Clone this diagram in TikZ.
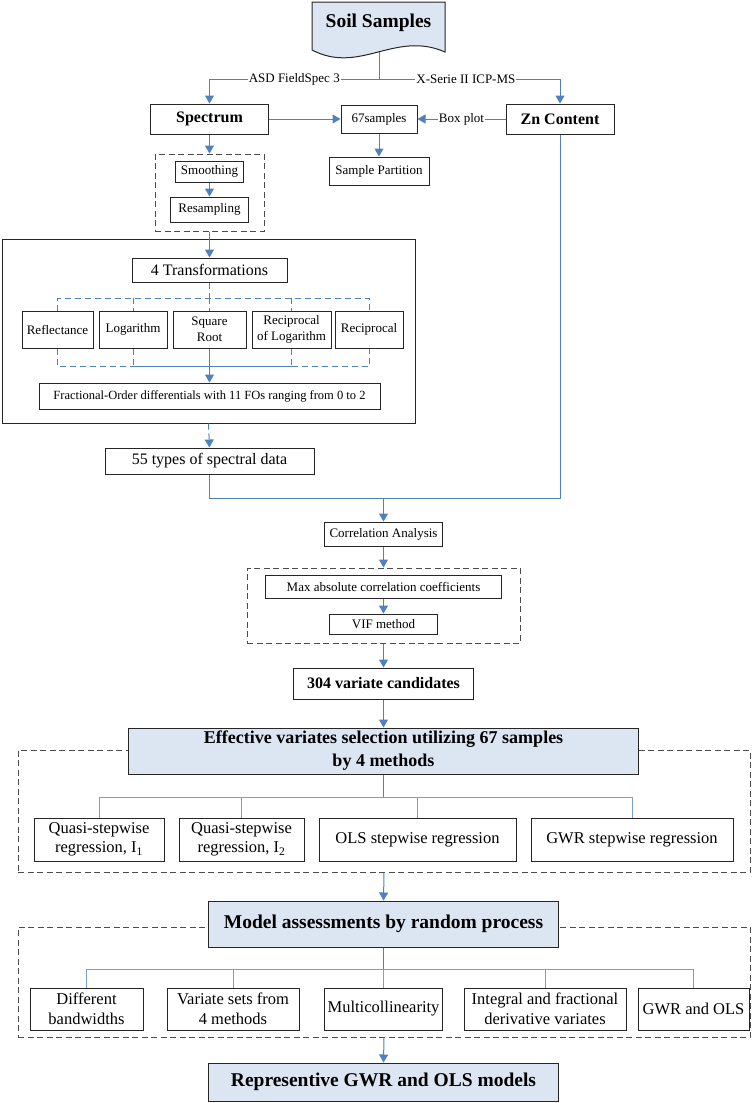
\documentclass[tikz,border=0pt]{standalone}
\usepackage{fontspec}
\setmainfont{Liberation Serif}
\usetikzlibrary{arrows.meta}
\definecolor{lightblue}{RGB}{220,230,242}
\definecolor{lineblue}{RGB}{79,129,189}
\definecolor{busblue}{RGB}{125,158,205}
\definecolor{dashgray}{RGB}{75,75,75}
\newcommand\fsz[2]{\fontsize{#1}{#2}\selectfont}
\begin{document}
\begin{tikzpicture}[x=1pt,y=-1pt,
  box/.style={draw=black!85, line width=1pt, fill=white, inner sep=1pt, align=center, font=\fsz{13}{15.5}},
  bbox/.style={box, font=\bfseries\fsz{16}{19}},
  lbox/.style={box, fill=lightblue, font=\bfseries\fsz{18}{23}},
  gbox/.style={box, font=\fsz{16.5}{19.5}},
  dbox/.style={draw=dashgray, line width=1pt, dash pattern=on 6pt off 3.5pt, inner sep=0pt},
  conn/.style={draw=lineblue, line width=1pt},
  dconn/.style={draw=lineblue, line width=1pt, dash pattern=on 6pt off 4pt},
  bus/.style={draw=busblue, line width=0.9pt},
  arr/.style={conn, -{Triangle[width=9pt,length=8pt]}},
  darr/.style={dconn, -{Triangle[width=9pt,length=8pt]}},
  lbl/.style={fill=white, inner sep=1pt, font=\fsz{13}{15}}]
\useasboundingbox (0,0) rectangle (752,1103);

% containers
\node[dbox, minimum width=109pt, minimum height=77pt] (grpS) at (209.5,192.5) {};
\node[draw=black!85, line width=1pt, inner sep=0pt, minimum width=413pt, minimum height=184pt] (grpT) at (208.5,331) {};
\node[dbox, minimum width=273pt, minimum height=75pt] (grpC) at (383.5,605.5) {};
\node[dbox, minimum width=732pt, minimum height=122pt] (grpE) at (384,811) {};
\node[dbox, minimum width=732pt, minimum height=110pt] (grpM) at (384,982) {};

% soil samples document shape
\draw[draw=black!85, line width=1pt, fill=lightblue] (312,2) -- (445,2) -- (445,52)
  .. controls (395,30) and (360,75) .. (312,50) -- cycle;
\node[font=\bfseries\fsz{19.5}{22}] (soil) at (378.5,23) {Soil Samples};
\coordinate (soilb) at (379,52);
\coordinate (split) at (379,79);

% top row
\node[bbox, minimum width=118pt, minimum height=30pt] (spec) at (209.5,119) {Spectrum};
\node[bbox, minimum width=108pt, minimum height=30pt] (zn) at (560,119) {Zn Content};
\node[box, minimum width=76pt, minimum height=28pt] (s67) at (379,119) {67samples};
\node[box, minimum width=100pt, minimum height=28pt] (part) at (379,171) {Sample Partition};

% preprocessing
\node[box, minimum width=68pt, minimum height=21pt] (smooth) at (209.5,171.5) {Smoothing};
\node[box, minimum width=78pt, minimum height=25pt] (resamp) at (209.5,209.5) {Resampling};

% transformations
\node[box, minimum width=155pt, minimum height=24pt, font=\fsz{16}{19}] (trans4) at (209.5,270) {4 Transformations};
\node[box, minimum width=71pt, minimum height=37pt] (refl) at (57.5,329.5) {Reflectance};
\node[box, minimum width=68pt, minimum height=37pt] (log) at (133,329.5) {Logarithm};
\node[box, minimum width=73pt, minimum height=37pt] (sqrt) at (209.5,329.5) {Square\\Root};
\node[box, minimum width=79pt, minimum height=37pt] (recl) at (291.5,329.5) {Reciprocal\\of Logarithm};
\node[box, minimum width=68pt, minimum height=37pt] (rec) at (369,329.5) {Reciprocal};
\node[box, minimum width=341pt, minimum height=26pt, font=\fsz{12.5}{15}] (fo) at (209.5,396) {Fractional-Order differentials with 11 FOs ranging from 0 to 2};
\node[box, minimum width=209pt, minimum height=26pt, font=\fsz{16}{19}] (t55) at (209.5,461) {55 types of spectral data};

% correlation
\node[box, minimum width=118pt, minimum height=24pt] (corr) at (383.5,534) {Correlation Analysis};
\node[box, minimum width=236pt, minimum height=23pt] (maxabs) at (383.5,586.5) {Max absolute correlation coefficients};
\node[box, minimum width=108pt, minimum height=20pt] (vif) at (383.5,624) {VIF method};
\node[bbox, minimum width=180pt, minimum height=31pt] (v304) at (383.5,683.5) {304 variate candidates};

% effective variates
\node[lbox, minimum width=510pt, minimum height=46pt] (eff) at (383.5,751) {Effective variates selection utilizing 67 samples\\by 4 methods};
\node[gbox, minimum width=130pt, minimum height=43pt] (q1) at (99,839.5) {Quasi-stepwise\\regression, I\textsubscript{1}};
\node[gbox, minimum width=125pt, minimum height=43pt] (q2) at (241.5,839.5) {Quasi-stepwise\\regression, I\textsubscript{2}};
\node[gbox, minimum width=197pt, minimum height=43pt] (ols) at (417.5,839.5) {OLS stepwise regression};
\node[gbox, minimum width=202pt, minimum height=43pt] (gwr) at (632,839.5) {GWR stepwise regression};

% model assessments
\node[lbox, minimum width=350pt, minimum height=46pt, font=\bfseries\fsz{19.5}{23}] (model) at (383.5,924) {Model assessments by random process};
\node[gbox, minimum width=113pt, minimum height=42pt] (diff) at (86.5,1009) {Different\\bandwidths};
\node[gbox, minimum width=132pt, minimum height=42pt] (vset) at (233,1009) {Variate sets from\\4 methods};
\node[gbox, minimum width=118pt, minimum height=42pt] (multi) at (383.5,1009) {Multicollinearity};
\node[gbox, minimum width=162pt, minimum height=42pt] (integ) at (545,1009) {Integral and fractional\\derivative variates};
\node[gbox, minimum width=111pt, minimum height=42pt] (gwrols) at (693.5,1009) {GWR and OLS};
\node[lbox, minimum width=350pt, minimum height=38pt, font=\bfseries\fsz{19.5}{23}] (rep) at (383.5,1082) {Representive GWR and OLS models};

% connectors: top
\draw[conn] (soilb) -- (split);
\draw[arr] (split) -| node[lbl,pos=0.25]{ASD FieldSpec 3} (spec.north);
\draw[arr] (split) -| node[lbl,pos=0.24]{X-Serie II ICP-MS} (zn.north);
\draw[arr] (spec.east) -- (s67.west);
\draw[arr] (zn.west) -- node[lbl]{Box plot} (s67.east);
\draw[arr] (s67.south) -- (part.north);
\draw[arr] (spec.south) -- (grpS.north);
\draw[arr] (smooth.south) -- (resamp.north);
\draw[arr] (grpS.south) -- (trans4.north);

% transformation bus
\coordinate (tt) at (209.5,298);
\coordinate (bb) at (209.5,366);
\draw[dconn] (trans4.south) -- (tt);
\draw[dconn] (refl.north) -- (refl.north |- tt) -- (rec.north |- tt) -- (rec.north);
\draw[dconn] (log.north |- tt) -- (log.north);
\draw[dconn] (tt) -- (sqrt.north);
\draw[dconn] (recl.north |- tt) -- (recl.north);
\draw[dconn] (refl.south) -- (refl.south |- bb) -- (log.south |- bb);
\draw[dconn] (log.south) -- (log.south |- bb);
\draw[conn] (log.south |- bb) -- (recl.south |- bb);
\draw[dconn] (recl.south) -- (recl.south |- bb);
\draw[dconn] (recl.south |- bb) -- (rec.south |- bb) -- (rec.south);
\draw[arr] (sqrt.south) -- (fo.north);
\draw[darr] (grpT.south) -- (t55.north);

% merge
\coordinate (m) at (383.5,498);
\draw[conn] (t55.south) -- (t55.south |- m) -- (m);
\draw[conn] (zn.south) -- (zn.south |- m) -- (m);
\draw[arr] (m) -- (corr.north);
\draw[arr] (corr.south) -- (grpC.north);
\draw[arr] (maxabs.south) -- (vif.north);
\draw[arr] (grpC.south) -- (v304.north);
\draw[arr] (v304.south) -- (eff.north);

% effective bus
\coordinate (eb) at (383.5,797);
\draw[bus] (q1.north) -- (q1.north |- eb) -- (gwr.north |- eb) -- (gwr.north);
\draw[bus] (q2.north |- eb) -- (q2.north);
\draw[bus] (ols.north |- eb) -- (ols.north);
\draw[conn] (eff.south) -- (eb);
\draw[arr] (grpE.south) -- (model.north);

% model bus
\coordinate (mb) at (383.5,969);
\draw[bus] (diff.north) -- (diff.north |- mb) -- (gwrols.north |- mb) -- (gwrols.north);
\draw[bus] (vset.north |- mb) -- (vset.north);
\draw[bus] (multi.north |- mb) -- (multi.north);
\draw[bus] (integ.north |- mb) -- (integ.north);
\draw[conn] (model.south) -- (mb);
\draw[arr] (grpM.south) -- (rep.north);
\end{tikzpicture}
\end{document}
